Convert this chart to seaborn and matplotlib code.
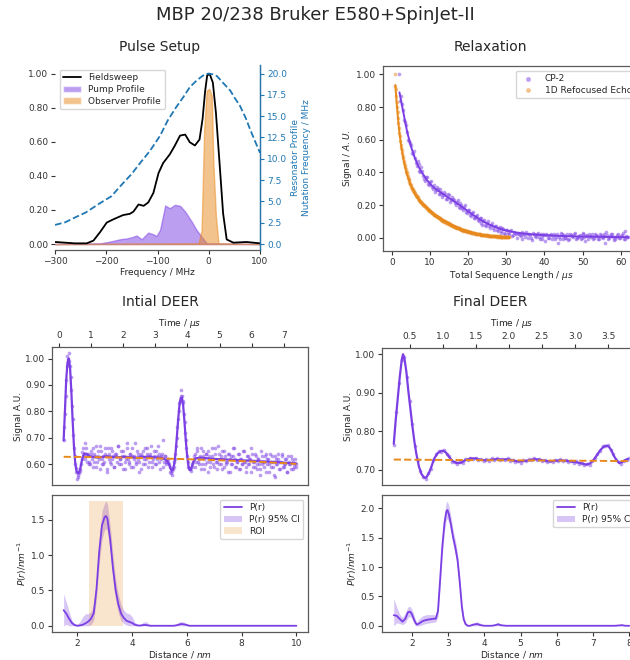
import numpy as np
import matplotlib
matplotlib.use("Agg")
import matplotlib.pyplot as plt
from matplotlib.lines import Line2D
from matplotlib.patches import Patch
import seaborn as sns

PURPLE = "#7B3FE4"
ORANGE = "#E8891C"
BLUE = "tab:blue"

# ---------------- Pulse setup ----------------
freq_fs = [-300, -261, -238, -225, -212, -199, -186, -167, -154, -147, -137, -127, -118, -108, -98,
           -89, -76, -66, -56, -46, -37, -27, -18, -12, -7, -3, 2, 8, 14, 22, 28, 35, 48, 74, 100]
fieldsweep = [0.012, 0.004, 0.004, 0.02, 0.07, 0.126, 0.145, 0.17, 0.177, 0.19, 0.232, 0.224, 0.244, 0.30, 0.416,
              0.475, 0.526, 0.578, 0.636, 0.642, 0.597, 0.578, 0.613, 0.735, 0.898, 0.99, 0.996, 0.947, 0.77, 0.436,
              0.18, 0.027, 0.008, 0.012, 0.004]
freq_pump = [-300, -212, -193, -173, -160, -150, -141, -131, -118, -108, -102, -95, -85, -76, -66, -56, -46,
             -33, -24, -14, -4, 100]
pump = [0.0, 0.004, 0.014, 0.028, 0.033, 0.04, 0.05, 0.028, 0.067, 0.057, 0.047, 0.083, 0.226, 0.21, 0.23,
        0.224, 0.19, 0.13, 0.083, 0.043, 0.004, 0.0]
freq_obs = [-300, -20, -14, -9, -4, 1, 6, 9, 14, 19, 100]
observer = [0.0, 0.004, 0.08, 0.67, 0.9, 0.91, 0.87, 0.475, 0.16, 0.004, 0.0]
freq_res = [-300, -280, -258, -240, -212, -190, -173, -150, -134, -115, -95, -80, -63, -50, -37, -25, -17, -8,
            0, 8, 16, 28, 42, 50, 61, 72, 81, 90, 100]
nutation = [2.24, 2.55, 3.2, 3.7, 4.8, 5.6, 6.76, 8.25, 9.5, 10.9, 12.7, 14.5, 16.1, 17.2, 18.4, 19.1, 19.5, 19.9,
            20.0, 19.9, 19.7, 18.9, 18.0, 17.2, 16.2, 14.8, 13.4, 12.1, 10.7]

# ---------------- Relaxation ----------------
# two interleaved acquisitions per experiment
cp2_signal_a = [1.00, 0.87, 0.78, 0.71, 0.65, 0.59, 0.57, 0.51, 0.49, 0.44,
                0.45, 0.40, 0.41, 0.36, 0.37, 0.33, 0.34, 0.31, 0.32, 0.29,
                0.30, 0.27, 0.28, 0.26, 0.27, 0.24, 0.26, 0.23, 0.24, 0.21,
                0.22, 0.19, 0.21, 0.18, 0.19, 0.16, 0.17, 0.14, 0.15, 0.12,
                0.13, 0.11, 0.12, 0.09, 0.10, 0.08, 0.09, 0.07, 0.08, 0.06,
                0.07, 0.05, 0.06, 0.04, 0.06, 0.03, 0.05, 0.03, 0.04, 0.01,
                0.035, 0.02, 0.03, 0.015, 0.035, 0.02, 0.005, 0.025, 0.02, 0.0,
                0.03, 0.01, 0.025, 0.005, 0.02, -0.005, 0.015, 0.025, 0.0, 0.015,
                -0.01, 0.02, 0.005, -0.03, -0.005, 0.02, 0.01, 0.0, 0.02, -0.01,
                0.015, 0.005, 0.03, 0.0, 0.01, -0.005, 0.02, 0.005, 0.015, -0.01,
                0.01, 0.02, 0.0, 0.015, -0.005, 0.02, 0.005, 0.01, -0.03, 0.015,
                0.0, 0.02, 0.005, -0.005, 0.015, 0.0, 0.01, 0.03, -0.005, 0.01,
                0.005]
cp2_signal_b = [0.84, 0.82, 0.72, 0.69, 0.60, 0.58, 0.52, 0.53, 0.46, 0.47,
                0.41, 0.43, 0.38, 0.35, 0.37, 0.32, 0.35, 0.30, 0.28, 0.31,
                0.27, 0.30, 0.25, 0.28, 0.24, 0.27, 0.22, 0.25, 0.23, 0.20,
                0.23, 0.18, 0.20, 0.17, 0.20, 0.15, 0.17, 0.13, 0.16, 0.12,
                0.14, 0.10, 0.12, 0.08, 0.11, 0.07, 0.10, 0.06, 0.09, 0.05,
                0.07, 0.04, 0.065, 0.03, 0.055, 0.02, 0.05, 0.02, 0.045, 0.015,
                0.03, 0.0, 0.025, 0.01, -0.01, 0.02, 0.035, 0.0, 0.015, -0.015,
                0.025, 0.005, 0.03, -0.005, 0.01, 0.02, -0.02, 0.015, 0.0, 0.025,
                0.01, -0.01, 0.02, 0.005, 0.03, -0.005, 0.015, 0.0, -0.015, 0.02,
                0.01, 0.025, -0.01, 0.005, 0.015, 0.0, 0.03, -0.02, 0.01, 0.02,
                0.005, -0.005, 0.025, 0.01, -0.01, 0.015, 0.0, 0.02, 0.035, -0.005,
                0.01, 0.02, -0.015, 0.005, 0.025, 0.0, 0.015, -0.01, 0.04, 0.005]
cp2_time_a = np.linspace(2.0, 62.0, len(cp2_signal_a))
cp2_time_b = np.linspace(2.25, 61.75, len(cp2_signal_b))
cp2_fit_t = [2, 3, 4, 5, 6, 7, 8, 9, 10, 11, 12, 13, 14, 15, 16, 17, 18, 19, 20, 21, 22, 23, 24, 25, 26, 27, 28,
             29, 30, 32, 34, 36, 38, 40, 45, 50, 55, 62]
cp2_fit = [0.89, 0.77, 0.65, 0.56, 0.49, 0.435, 0.395, 0.36, 0.33, 0.308, 0.29, 0.274, 0.258, 0.243, 0.228,
           0.212, 0.196, 0.179, 0.161, 0.144, 0.128, 0.113, 0.099, 0.087, 0.076, 0.066, 0.057, 0.05, 0.044,
           0.034, 0.027, 0.022, 0.018, 0.015, 0.01, 0.007, 0.005, 0.003]

echo_signal_a = [1.00, 0.91, 0.83, 0.77, 0.70, 0.64, 0.595, 0.55, 0.52, 0.49,
                 0.455, 0.435, 0.405, 0.39, 0.365, 0.355, 0.33, 0.325, 0.305, 0.298,
                 0.283, 0.274, 0.262, 0.254, 0.247, 0.233, 0.231, 0.219, 0.218, 0.205,
                 0.203, 0.194, 0.192, 0.183, 0.181, 0.172, 0.170, 0.161, 0.159, 0.152,
                 0.149, 0.142, 0.141, 0.133, 0.132, 0.125, 0.122, 0.118, 0.113, 0.111,
                 0.105, 0.103, 0.098, 0.097, 0.091, 0.090, 0.085, 0.084, 0.079, 0.078,
                 0.073, 0.072, 0.068, 0.067, 0.062, 0.062, 0.057, 0.057, 0.053, 0.052,
                 0.048, 0.048, 0.044, 0.044, 0.040, 0.040, 0.036, 0.036, 0.033, 0.033,
                 0.030, 0.030, 0.027, 0.027, 0.024, 0.025, 0.022, 0.022, 0.020, 0.020,
                 0.018, 0.018, 0.016, 0.017, 0.014, 0.015, 0.013, 0.014, 0.011, 0.012,
                 0.010, 0.011, 0.009, 0.010, 0.008, 0.009, 0.007, 0.009, 0.006, 0.008,
                 0.006, 0.007, 0.005, 0.007, 0.005, 0.006, 0.004, 0.006, 0.005, 0.004,
                 0.005]
echo_signal_b = [0.93, 0.87, 0.80, 0.73, 0.67, 0.62, 0.57, 0.535, 0.50, 0.47,
                 0.445, 0.42, 0.40, 0.375, 0.36, 0.34, 0.33, 0.31, 0.30, 0.288,
                 0.278, 0.266, 0.258, 0.248, 0.242, 0.232, 0.225, 0.218, 0.211, 0.204,
                 0.198, 0.193, 0.186, 0.182, 0.176, 0.171, 0.165, 0.161, 0.156, 0.151,
                 0.146, 0.142, 0.137, 0.134, 0.129, 0.126, 0.121, 0.118, 0.114, 0.110,
                 0.107, 0.103, 0.100, 0.096, 0.094, 0.090, 0.087, 0.084, 0.081, 0.078,
                 0.075, 0.072, 0.070, 0.067, 0.064, 0.062, 0.060, 0.057, 0.055, 0.053,
                 0.050, 0.049, 0.046, 0.045, 0.042, 0.041, 0.039, 0.037, 0.036, 0.034,
                 0.032, 0.031, 0.029, 0.028, 0.026, 0.025, 0.024, 0.023, 0.021, 0.021,
                 0.019, 0.019, 0.017, 0.017, 0.016, 0.015, 0.014, 0.014, 0.012, 0.012,
                 0.011, 0.011, 0.010, 0.010, 0.009, 0.009, 0.008, 0.008, 0.007, 0.008,
                 0.006, 0.007, 0.006, 0.006, 0.005, 0.006, 0.005, 0.005, 0.004, 0.006]
echo_time_a = np.linspace(0.75, 30.75, len(echo_signal_a))
echo_time_b = np.linspace(0.875, 30.625, len(echo_signal_b))
echo_fit_t = [0.9, 1.0, 1.25, 1.5, 1.75, 2, 2.5, 3, 3.5, 4, 5, 6, 7, 8, 9, 10, 11, 12, 13, 14, 15, 16, 17, 18,
              19, 20, 22, 24, 26, 28, 30.75]
echo_fit = [0.935, 0.91, 0.83, 0.76, 0.70, 0.64, 0.555, 0.485, 0.43, 0.385, 0.32, 0.27, 0.235, 0.208, 0.187,
            0.165, 0.146, 0.13, 0.114, 0.10, 0.087, 0.076, 0.066, 0.056, 0.047, 0.039, 0.026, 0.017, 0.011,
            0.007, 0.005]

# ---------------- Initial DEER ----------------
init_signal_a = [0.69, 0.79, 0.92, 1.01, 1.02, 0.97, 0.88, 0.77, 0.66, 0.60,
                 0.57, 0.55, 0.565, 0.58, 0.62, 0.66, 0.63, 0.68, 0.61, 0.64,
                 0.60, 0.65, 0.62, 0.59, 0.64, 0.67, 0.61, 0.63, 0.58, 0.65,
                 0.62, 0.60, 0.66, 0.63, 0.57, 0.64, 0.61, 0.66, 0.62, 0.59,
                 0.64, 0.63, 0.67, 0.60, 0.62, 0.65, 0.58, 0.63, 0.61, 0.68,
                 0.62, 0.60, 0.64, 0.66, 0.59, 0.63, 0.61, 0.65, 0.62, 0.57,
                 0.64, 0.63, 0.60, 0.66, 0.62, 0.64, 0.59, 0.63, 0.67, 0.61,
                 0.63, 0.60, 0.65, 0.62, 0.64, 0.58, 0.63, 0.69, 0.61, 0.63,
                 0.60, 0.62, 0.60, 0.57, 0.56, 0.58, 0.61, 0.64, 0.70, 0.77,
                 0.83, 0.88, 0.86, 0.83, 0.76, 0.69, 0.63, 0.59, 0.58, 0.575,
                 0.60, 0.62, 0.64, 0.61, 0.66, 0.60, 0.63, 0.58, 0.65, 0.62,
                 0.60, 0.64, 0.57, 0.63, 0.61, 0.66, 0.62, 0.59, 0.64, 0.61,
                 0.67, 0.60, 0.63, 0.58, 0.62, 0.65, 0.60, 0.61, 0.64, 0.57,
                 0.63, 0.60, 0.66, 0.62, 0.59, 0.61, 0.64, 0.58, 0.62, 0.60,
                 0.65, 0.61, 0.57, 0.63, 0.60, 0.62, 0.66, 0.59, 0.61, 0.64,
                 0.58, 0.62, 0.60, 0.56, 0.63, 0.61, 0.59, 0.64, 0.60, 0.62,
                 0.57, 0.61, 0.63, 0.59, 0.55, 0.62, 0.60, 0.64, 0.58, 0.61,
                 0.63, 0.59, 0.60, 0.62, 0.57, 0.61, 0.60, 0.63, 0.58, 0.60,
                 0.62, 0.59]
init_signal_b = [0.74, 0.86, 0.97, 1.00, 0.99, 0.93, 0.82, 0.71, 0.63, 0.585,
                 0.545, 0.56, 0.575, 0.60, 0.645, 0.64, 0.62, 0.66, 0.64, 0.61,
                 0.60, 0.64, 0.66, 0.61, 0.63, 0.59, 0.65, 0.62, 0.67, 0.60,
                 0.63, 0.61, 0.64, 0.58, 0.66, 0.62, 0.60, 0.65, 0.63, 0.59,
                 0.64, 0.61, 0.67, 0.62, 0.60, 0.63, 0.65, 0.58, 0.62, 0.66,
                 0.61, 0.64, 0.59, 0.63, 0.62, 0.68, 0.60, 0.64, 0.61, 0.63,
                 0.58, 0.65, 0.62, 0.60, 0.66, 0.63, 0.61, 0.64, 0.59, 0.62,
                 0.65, 0.60, 0.63, 0.67, 0.61, 0.62, 0.64, 0.59, 0.63, 0.61,
                 0.62, 0.61, 0.59, 0.565, 0.575, 0.59, 0.62, 0.67, 0.74, 0.80,
                 0.84, 0.86, 0.84, 0.79, 0.72, 0.66, 0.61, 0.585, 0.58, 0.59,
                 0.61, 0.63, 0.59, 0.65, 0.61, 0.62, 0.66, 0.60, 0.63, 0.58,
                 0.64, 0.61, 0.65, 0.59, 0.62, 0.63, 0.60, 0.66, 0.61, 0.58,
                 0.64, 0.62, 0.60, 0.65, 0.59, 0.63, 0.61, 0.57, 0.64, 0.62,
                 0.60, 0.63, 0.66, 0.59, 0.61, 0.64, 0.58, 0.62, 0.60, 0.65,
                 0.61, 0.59, 0.63, 0.60, 0.62, 0.57, 0.64, 0.61, 0.59, 0.63,
                 0.60, 0.62, 0.58, 0.65, 0.60, 0.61, 0.63, 0.57, 0.62, 0.60,
                 0.64, 0.59, 0.61, 0.56, 0.63, 0.60, 0.62, 0.58, 0.61, 0.64,
                 0.59, 0.60, 0.62, 0.57, 0.63, 0.60, 0.58, 0.62, 0.61, 0.59,
                 0.60]
init_time_a = np.linspace(0.15, 7.39, len(init_signal_a))
init_time_b = np.linspace(0.17, 7.37, len(init_signal_b))
init_fit_t = [0.15, 0.19, 0.23, 0.27, 0.31, 0.35, 0.39, 0.43, 0.47, 0.51, 0.55, 0.59, 0.63, 0.67, 0.71, 0.75,
              0.79, 0.85, 0.95, 1.2, 1.5, 1.8, 2.1, 2.4, 2.7, 3.0, 3.2, 3.35, 3.43, 3.47, 3.51, 3.55, 3.59,
              3.63, 3.67, 3.71, 3.75, 3.79, 3.83, 3.87, 3.91, 3.95, 3.99, 4.03, 4.07, 4.11, 4.15, 4.19, 4.25,
              4.4, 4.8, 5.2, 5.6, 6.0, 6.4, 6.8, 7.1, 7.39]
init_fit = [0.69, 0.80, 0.92, 0.985, 1.00, 0.965, 0.875, 0.765, 0.67, 0.605, 0.575, 0.565, 0.568, 0.585, 0.61,
            0.63, 0.64, 0.64, 0.63, 0.625, 0.63, 0.626, 0.628, 0.625, 0.628, 0.626, 0.625, 0.615, 0.60, 0.585,
            0.575, 0.58, 0.60, 0.64, 0.70, 0.765, 0.82, 0.85, 0.852, 0.82, 0.76, 0.69, 0.635, 0.595, 0.578,
            0.58, 0.595, 0.61, 0.622, 0.625, 0.62, 0.618, 0.615, 0.613, 0.61, 0.608, 0.605, 0.603]
init_bg_t = [0.15, 1.0, 2.0, 3.0, 4.0, 5.0, 6.0, 7.0, 7.39]
init_bg = [0.628, 0.627, 0.625, 0.622, 0.619, 0.615, 0.610, 0.604, 0.601]

init_r = [1.5, 1.6, 1.7, 1.8, 1.9, 2.0, 2.1, 2.2, 2.3, 2.4, 2.5, 2.6, 2.7, 2.8, 2.9, 3.0, 3.05, 3.1, 3.2, 3.3,
          3.4, 3.5, 3.6, 3.7, 3.8, 3.9, 4.0, 4.1, 4.2, 4.3, 4.4, 4.5, 4.6, 4.7, 5.0, 5.5, 5.6, 5.7, 5.8, 5.9,
          6.0, 6.1, 6.5, 7.0, 8.0, 9.0, 10.0]
init_P = [0.22, 0.17, 0.10, 0.04, 0.01, 0.0, 0.005, 0.015, 0.035, 0.06, 0.10, 0.18, 0.52, 1.05, 1.42, 1.54,
          1.55, 1.51, 1.22, 0.82, 0.50, 0.30, 0.17, 0.11, 0.07, 0.055, 0.04, 0.015, 0.005, 0.003, 0.01, 0.012,
          0.004, 0.0, 0.0, 0.0, 0.005, 0.015, 0.025, 0.02, 0.01, 0.0, 0.0, 0.0, 0.0, 0.0, 0.0]
init_P_lo = [0.0, 0.02, 0.0, 0.0, 0.0, 0.0, 0.0, 0.0, 0.0, 0.0, 0.02, 0.08, 0.38, 0.88, 1.22, 1.36, 1.37, 1.33,
             1.04, 0.66, 0.36, 0.18, 0.07, 0.03, 0.01, 0.0, 0.0, 0.0, 0.0, 0.0, 0.0, 0.0, 0.0, 0.0, 0.0, 0.0,
             0.0, 0.0, 0.0, 0.0, 0.0, 0.0, 0.0, 0.0, 0.0, 0.0, 0.0]
init_P_hi = [0.45, 0.33, 0.20, 0.08, 0.03, 0.02, 0.06, 0.13, 0.17, 0.17, 0.20, 0.30, 0.66, 1.22, 1.62, 1.74,
             1.76, 1.72, 1.42, 1.00, 0.66, 0.44, 0.30, 0.22, 0.18, 0.17, 0.13, 0.05, 0.02, 0.01, 0.05, 0.06,
             0.03, 0.0, 0.0, 0.0, 0.02, 0.05, 0.06, 0.05, 0.03, 0.0, 0.0, 0.0, 0.0, 0.0, 0.0]
roi = [2.42, 3.68]

# ---------------- Final DEER ----------------
final_signal = [0.765, 0.850, 0.925, 0.985, 0.993, 0.940, 0.878, 0.818, 0.762, 0.726,
                0.695, 0.680, 0.676, 0.690, 0.702, 0.726, 0.740, 0.749, 0.745, 0.751,
                0.740, 0.734, 0.720, 0.719, 0.714, 0.720, 0.717, 0.727, 0.724, 0.731,
                0.727, 0.731, 0.724, 0.728, 0.721, 0.727, 0.723, 0.729, 0.725, 0.730,
                0.724, 0.728, 0.725, 0.730, 0.722, 0.726, 0.719, 0.723, 0.718, 0.724,
                0.722, 0.727, 0.724, 0.729, 0.725, 0.728, 0.722, 0.726, 0.719, 0.723,
                0.720, 0.725, 0.721, 0.727, 0.722, 0.725, 0.719, 0.723, 0.717, 0.722,
                0.715, 0.718, 0.711, 0.715, 0.713, 0.722, 0.729, 0.741, 0.748, 0.760,
                0.760, 0.764, 0.751, 0.741, 0.724, 0.719, 0.714, 0.723, 0.725, 0.730]
final_time = np.linspace(0.26, 3.82, len(final_signal))
final_fit_t = [0.26, 0.29, 0.32, 0.35, 0.38, 0.40, 0.42, 0.45, 0.48, 0.51, 0.54, 0.57, 0.60, 0.64, 0.68, 0.72,
               0.75, 0.79, 0.83, 0.87, 0.92, 0.97, 1.01, 1.05, 1.10, 1.15, 1.21, 1.28, 1.35, 1.42, 1.50, 1.58,
               1.66, 1.74, 1.82, 1.90, 1.98, 2.06, 2.14, 2.22, 2.30, 2.38, 2.46, 2.54, 2.62, 2.70, 2.78, 2.86,
               2.94, 3.02, 3.10, 3.17, 3.23, 3.28, 3.33, 3.38, 3.43, 3.47, 3.51, 3.55, 3.59, 3.63, 3.67, 3.71,
               3.75, 3.80]
final_fit = [0.767, 0.83, 0.885, 0.94, 0.985, 1.00, 0.99, 0.955, 0.905, 0.86, 0.815, 0.775, 0.742, 0.708, 0.688,
             0.679, 0.679, 0.69, 0.708, 0.728, 0.742, 0.748, 0.749, 0.744, 0.732, 0.722, 0.717, 0.718, 0.725,
             0.729, 0.729, 0.725, 0.724, 0.726, 0.727, 0.726, 0.727, 0.724, 0.721, 0.722, 0.724, 0.727, 0.726,
             0.723, 0.721, 0.723, 0.724, 0.723, 0.721, 0.719, 0.716, 0.713, 0.716, 0.725, 0.737, 0.750, 0.759,
             0.762, 0.760, 0.750, 0.735, 0.724, 0.717, 0.719, 0.724, 0.728]
final_bg_t = [0.26, 1.0, 2.0, 3.0, 3.82]
final_bg = [0.726, 0.725, 0.724, 0.723, 0.722]

final_r = [1.5, 1.58, 1.66, 1.74, 1.82, 1.89, 1.95, 2.0, 2.05, 2.1, 2.14, 2.2, 2.3, 2.4, 2.5, 2.6, 2.66, 2.72,
           2.78, 2.84, 2.9, 2.95, 2.98, 3.02, 3.08, 3.14, 3.2, 3.26, 3.32, 3.38, 3.43, 3.48, 3.54, 3.6, 3.7, 3.8,
           3.9, 4.0, 4.2, 4.3, 4.38, 4.45, 4.6, 5.0, 6.0, 7.0, 7.6, 7.7, 7.8, 7.9, 8.0]
final_P = [0.18, 0.17, 0.12, 0.07, 0.12, 0.23, 0.24, 0.20, 0.12, 0.05, 0.02, 0.04, 0.08, 0.10, 0.11, 0.12, 0.12,
           0.25, 0.79, 1.35, 1.75, 1.94, 1.97, 1.90, 1.72, 1.50, 1.33, 1.12, 0.75, 0.32, 0.11, 0.03, 0.0, 0.0,
           0.02, 0.03, 0.01, 0.0, 0.0, 0.01, 0.025, 0.01, 0.0, 0.0, 0.0, 0.0, 0.0, 0.005, 0.01, 0.0, 0.0]
final_P_lo = [0.0, 0.05, 0.04, 0.02, 0.05, 0.14, 0.16, 0.12, 0.05, 0.0, 0.0, 0.0, 0.02, 0.04, 0.05, 0.06, 0.07,
              0.15, 0.65, 1.20, 1.60, 1.80, 1.82, 1.76, 1.58, 1.38, 1.20, 1.00, 0.64, 0.24, 0.06, 0.0, 0.0, 0.0,
              0.0, 0.0, 0.0, 0.0, 0.0, 0.0, 0.0, 0.0, 0.0, 0.0, 0.0, 0.0, 0.0, 0.0, 0.0, 0.0, 0.0]
final_P_hi = [0.46, 0.32, 0.20, 0.14, 0.22, 0.32, 0.33, 0.28, 0.20, 0.10, 0.06, 0.12, 0.17, 0.19, 0.19, 0.19, 0.18,
              0.35, 0.95, 1.50, 1.92, 2.10, 2.12, 2.04, 1.86, 1.62, 1.46, 1.24, 0.86, 0.42, 0.17, 0.07, 0.02, 0.02,
              0.05, 0.07, 0.04, 0.0, 0.0, 0.03, 0.06, 0.03, 0.0, 0.0, 0.0, 0.0, 0.0, 0.02, 0.03, 0.0, 0.0]

# ---------------- Style ----------------
sns.set_theme(style="ticks", rc={
    "axes.edgecolor": "#5a5a5a",
    "axes.linewidth": 0.9,
    "xtick.color": "#333333",
    "ytick.color": "#333333",
    "xtick.major.size": 3,
    "ytick.major.size": 3,
    "xtick.major.width": 0.8,
    "ytick.major.width": 0.8,
    "xtick.major.pad": 2,
    "ytick.major.pad": 2,
    "xtick.labelsize": 6.5,
    "ytick.labelsize": 6.5,
    "axes.labelsize": 6.5,
    "legend.fontsize": 6.5,
    "axes.labelpad": 1.5,
})
plt.rcParams["font.family"] = ["DejaVu Sans"]

W, H = 630, 660
fig = plt.figure(figsize=(W / 100, H / 100), dpi=100)


def box(left, top, right, bottom):
    return [left / W, 1 - bottom / H, (right - left) / W, (bottom - top) / H]


fig.text(0.5, 1 - 15 / H, "MBP 20/238 Bruker E580+SpinJet-II", ha="center", va="center", fontsize=13)
for x, y, t in [(160, 47, "Pulse Setup"), (490, 47, "Relaxation"),
                (160, 302, "Intial DEER"), (490, 302, "Final DEER")]:
    fig.text(x / W, 1 - y / H, t, ha="center", va="center", fontsize=10)

fmt2 = matplotlib.ticker.FormatStrFormatter("%.2f")

# ---- Pulse setup panel ----
ax = fig.add_axes(box(55, 65, 260, 250))
ax.fill_between(freq_pump, 0, pump, color=PURPLE, alpha=0.5, label="Pump Profile")
ax.fill_between(freq_obs, 0, observer, color=ORANGE, alpha=0.5, label="Observer Profile")
sns.lineplot(x=freq_fs, y=fieldsweep, color="black", lw=1.3, ax=ax, label="Fieldsweep")
ax.set_xlim(-300, 100)
ax.set_ylim(-0.035, 1.05)
ax.set_yticks(np.arange(0, 1.01, 0.2))
ax.yaxis.set_major_formatter(fmt2)
ax.set_xticks([-300, -200, -100, 0, 100])
ax.set_xlabel("Frequency / MHz")
ax.spines["top"].set_visible(False)
ax.spines["left"].set_visible(False)
ax2 = ax.twinx()
sns.lineplot(x=freq_res, y=nutation, color=BLUE, lw=1.3, ls="--", ax=ax2)
ax2.set_ylim(-0.035 * 20, 1.05 * 20)
ax2.set_yticks(np.arange(0, 20.1, 2.5))
ax2.yaxis.set_major_formatter(matplotlib.ticker.FormatStrFormatter("%.1f"))
ax2.tick_params(axis="y", colors=BLUE)
ax2.spines["right"].set_color(BLUE)
for s in ["top", "left", "bottom"]:
    ax2.spines[s].set_visible(False)
ax2.set_ylabel("Resonator Profile\nNutation Frequency / MHz", color=BLUE, labelpad=3)
handles = [Line2D([], [], color="black", lw=1.3),
           Patch(facecolor=PURPLE, alpha=0.5), Patch(facecolor=ORANGE, alpha=0.5)]
ax.legend(handles, ["Fieldsweep", "Pump Profile", "Observer Profile"], loc="upper left",
          handlelength=2, borderpad=0.4, labelspacing=0.3)

# ---- Relaxation panel ----
ax = fig.add_axes(box(383, 66, 640, 251))
sns.scatterplot(x=cp2_time_a, y=cp2_signal_a, color=PURPLE, s=7, alpha=0.5, linewidth=0, ax=ax, label="CP-2")
sns.scatterplot(x=cp2_time_b, y=cp2_signal_b, color=PURPLE, s=7, alpha=0.5, linewidth=0, ax=ax)
sns.scatterplot(x=echo_time_a, y=echo_signal_a, color=ORANGE, s=7, alpha=0.5, linewidth=0, ax=ax,
                label="1D Refocused Echo")
sns.scatterplot(x=echo_time_b, y=echo_signal_b, color=ORANGE, s=7, alpha=0.5, linewidth=0, ax=ax)
sns.lineplot(x=cp2_fit_t, y=cp2_fit, color=PURPLE, lw=1.4, ax=ax, legend=False)
sns.lineplot(x=echo_fit_t, y=echo_fit, color=ORANGE, lw=1.4, ax=ax, legend=False)
ax.set_yticks(np.arange(0, 1.01, 0.2))
ax.yaxis.set_major_formatter(fmt2)
ax.set_xticks([0, 10, 20, 30, 40, 50, 60])
ax.set_xlabel(r"Total Sequence Length / $\mu s$")
ax.set_ylabel(r"Signal / $A.U.$")
ax.legend(loc="upper right", markerscale=1.3, borderpad=0.4, labelspacing=0.3)


def deer_top(box_px, ts, sigs, ft, fy, bt, by, xticks):
    a = fig.add_axes(box(*box_px))
    for t, sig in zip(ts, sigs):
        sns.scatterplot(x=t, y=sig, color=PURPLE, s=7, alpha=0.5, linewidth=0, ax=a)
    sns.lineplot(x=ft, y=fy, color=PURPLE, lw=1.6, ax=a)
    sns.lineplot(x=bt, y=by, color=ORANGE, lw=1.4, ls="--", ax=a)
    a.xaxis.tick_top()
    a.xaxis.set_label_position("top")
    a.set_xticks(xticks)
    a.set_xlabel(r"Time / $\mu s$", labelpad=4)
    a.set_ylabel("Signal A.U.")
    a.yaxis.set_major_formatter(fmt2)
    return a


def deer_bottom(box_px, r, P, lo, hi):
    a = fig.add_axes(box(*box_px))
    sns.lineplot(x=r, y=P, color=PURPLE, lw=1.3, ax=a, label="P(r)")
    a.fill_between(r, lo, hi, color=PURPLE, alpha=0.3, linewidth=0, label="P(r) 95% CI")
    a.set_xlabel(r"Distance / $nm$", labelpad=1)
    a.set_ylabel(r"$P(r) / nm^{-1}$")
    return a


# ---- Initial DEER ----
a = deer_top((52, 347, 308, 485), [init_time_a, init_time_b], [init_signal_a, init_signal_b],
             init_fit_t, init_fit, init_bg_t, init_bg, range(0, 8))
a.set_yticks([0.6, 0.7, 0.8, 0.9, 1.0])
a = deer_bottom((52, 495, 308, 632), init_r, init_P, init_P_lo, init_P_hi)
a.fill_between(roi, 0, max(init_P_hi), color=ORANGE, alpha=0.22, linewidth=0, label="ROI")
a.set_xticks([2, 4, 6, 8, 10])
a.set_yticks([0.0, 0.5, 1.0, 1.5])
a.legend(loc="upper right", borderpad=0.4, labelspacing=0.3)

# ---- Final DEER ----
a = deer_top((382, 348, 641, 485), [final_time], [final_signal], final_fit_t, final_fit, final_bg_t, final_bg,
             [0.5, 1.0, 1.5, 2.0, 2.5, 3.0, 3.5])
a.set_yticks([0.7, 0.8, 0.9, 1.0])
a = deer_bottom((382, 495, 641, 632), final_r, final_P, final_P_lo, final_P_hi)
a.set_xticks(range(2, 9))
a.set_yticks([0.0, 0.5, 1.0, 1.5, 2.0])
a.legend(loc="upper right", borderpad=0.4, labelspacing=0.3)

fig.savefig("out.png", dpi=100)
